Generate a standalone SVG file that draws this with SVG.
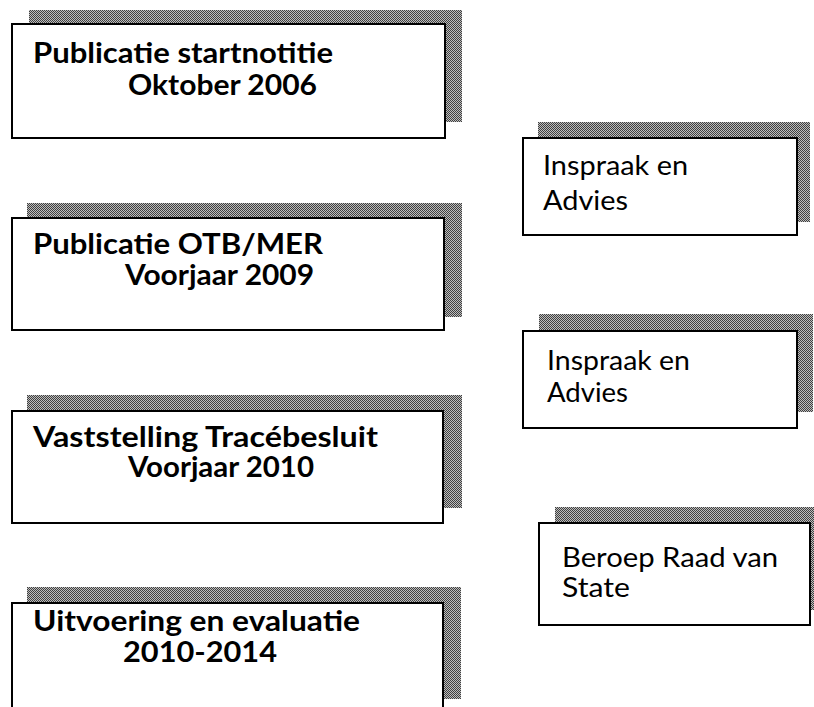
<svg xmlns="http://www.w3.org/2000/svg" width="814" height="707" viewBox="0 0 814 707">
<defs>
<pattern id="dither" width="2" height="2" patternUnits="userSpaceOnUse">
<rect width="2" height="2" fill="#bdbdbd"/>
<rect width="1" height="1" fill="#404040"/>
<rect x="1" y="1" width="1" height="1" fill="#404040"/>
</pattern>
</defs>
<style>
.shadow{fill:url(#dither);stroke:none}
.box{fill:#fff;stroke:#000;stroke-width:2}
.b{font-family:Lato,"Open Sans","Liberation Sans",sans-serif;font-weight:bold;font-size:29px;fill:#000}
.r{font-family:Lato,"Open Sans","Liberation Sans",sans-serif;font-size:27px;fill:#000}
</style>
<rect width="814" height="707" fill="#fff"/>
<g id="connectors"></g>
<g id="n1">
<rect class="shadow" x="29" y="10" width="433" height="112"/>
<rect class="box" x="12" y="24" width="433" height="114"/>
<text class="b" x="33" y="63" textLength="300" lengthAdjust="spacingAndGlyphs">Publicatie startnotitie</text>
<text class="b" x="128" y="95" textLength="189" lengthAdjust="spacingAndGlyphs">Oktober 2006</text>
</g>
<g id="n2">
<rect class="shadow" x="27" y="203" width="435" height="114"/>
<rect class="box" x="12" y="218" width="432" height="112"/>
<text class="b" x="33" y="254" textLength="290" lengthAdjust="spacingAndGlyphs">Publicatie OTB/MER</text>
<text class="b" x="125" y="285" textLength="189" lengthAdjust="spacingAndGlyphs">Voorjaar 2009</text>
</g>
<g id="n3">
<rect class="shadow" x="27" y="395" width="435" height="113"/>
<rect class="box" x="12" y="411" width="431" height="112"/>
<text class="b" x="33" y="447" textLength="345" lengthAdjust="spacingAndGlyphs">Vaststelling Tracébesluit</text>
<text class="b" x="128" y="477" textLength="186" lengthAdjust="spacingAndGlyphs">Voorjaar 2010</text>
</g>
<g id="n4">
<rect class="shadow" x="27" y="587" width="434" height="112"/>
<rect class="box" x="12" y="603" width="431" height="120"/>
<text class="b" x="33" y="631" textLength="327" lengthAdjust="spacingAndGlyphs">Uitvoering en evaluatie</text>
<text class="b" x="123" y="662" textLength="154" lengthAdjust="spacingAndGlyphs">2010-2014</text>
</g>
<g id="n5">
<rect class="shadow" x="538" y="122" width="272" height="100"/>
<rect class="box" x="523" y="138" width="274" height="97"/>
<text class="r" x="543" y="175" textLength="145" lengthAdjust="spacingAndGlyphs">Inspraak en</text>
<text class="r" x="543" y="210" textLength="85" lengthAdjust="spacingAndGlyphs">Advies</text>
</g>
<g id="n6">
<rect class="shadow" x="539" y="314" width="274" height="98"/>
<rect class="box" x="523" y="331" width="274" height="97"/>
<text class="r" x="547" y="370" textLength="143" lengthAdjust="spacingAndGlyphs">Inspraak en</text>
<text class="r" x="547" y="402" textLength="81" lengthAdjust="spacingAndGlyphs">Advies</text>
</g>
<g id="n7">
<rect class="shadow" x="555" y="507" width="259" height="103"/>
<rect class="box" x="539" y="523" width="271" height="102"/>
<text class="r" x="562" y="567" textLength="216" lengthAdjust="spacingAndGlyphs">Beroep Raad van</text>
<text class="r" x="562" y="597" textLength="68" lengthAdjust="spacingAndGlyphs">State</text>
</g>
</svg>
